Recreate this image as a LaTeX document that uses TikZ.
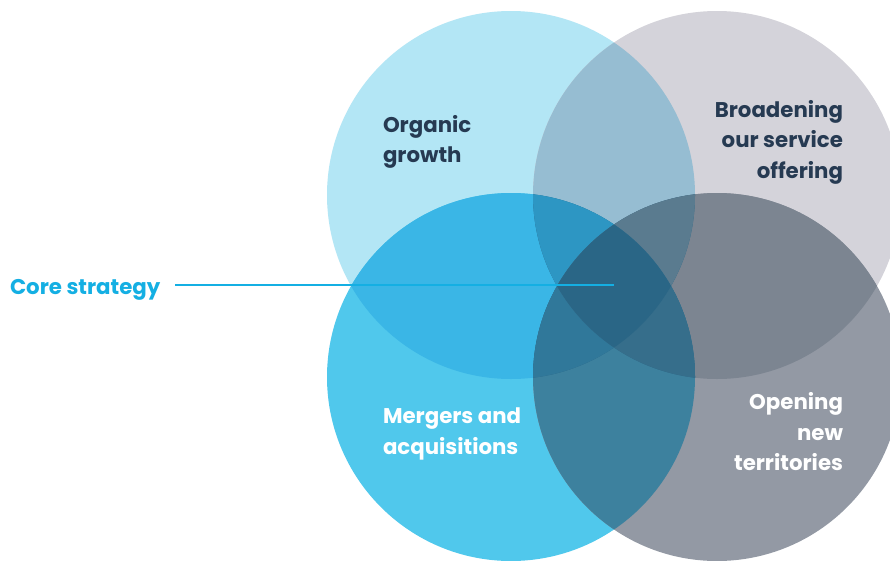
\documentclass[tikz,border=0pt]{standalone}
\usepackage{fontspec}
\setmainfont{Poppins}
\definecolor{cT}{HTML}{B3E6F5}
\definecolor{cR}{HTML}{D4D3DA}
\definecolor{cB}{HTML}{50C8EC}
\definecolor{cD}{HTML}{9399A4}
\definecolor{cTR}{HTML}{96BDD2}
\definecolor{cTB}{HTML}{3AB6E6}
\definecolor{cRD}{HTML}{7C8591}
\definecolor{cBD}{HTML}{3D819E}
\definecolor{cTD}{HTML}{2A6686}
\definecolor{cRB}{HTML}{2A6686}
\definecolor{cTRB}{HTML}{2D96C3}
\definecolor{cTRD}{HTML}{5A7B8F}
\definecolor{cTBD}{HTML}{30789A}
\definecolor{cRBD}{HTML}{366E8B}
\definecolor{cAll}{HTML}{2A6686}
\definecolor{navytext}{HTML}{263A52}
\definecolor{corecyan}{HTML}{14AFE3}
\newcommand{\vrad}{184pt}
\newcommand{\vennpair}[3]{\begin{scope}\clip (#1) circle (\vrad); \fill[#3] (#2) circle (\vrad);\end{scope}}
\newcommand{\venntriple}[4]{\begin{scope}\clip (#1) circle (\vrad); \clip (#2) circle (\vrad); \fill[#4] (#3) circle (\vrad);\end{scope}}
\begin{document}
\begin{tikzpicture}[x=1pt,y=-1pt,
  lbl/.style={font=\bfseries\fontsize{21.3}{30.5}\selectfont, inner sep=0pt, outer sep=0pt},
  darklbl/.style={lbl, text=navytext},
  whitelbl/.style={lbl, text=white},
  coreline/.style={draw=corecyan, line width=1.8pt}]
\useasboundingbox (0,0) rectangle (890,560);
\clip (0,0) rectangle (890,560);
\fill[white] (0,0) rectangle (890,560);
\coordinate (T) at (511,195);
\coordinate (R) at (717,195);
\coordinate (B) at (511,377);
\coordinate (D) at (717,377);
% single circles
\fill[cT] (T) circle (\vrad);
\fill[cR] (R) circle (\vrad);
\fill[cB] (B) circle (\vrad);
\fill[cD] (D) circle (\vrad);
% pairwise overlaps
\vennpair{T}{R}{cTR}
\vennpair{T}{B}{cTB}
\vennpair{R}{D}{cRD}
\vennpair{B}{D}{cBD}
\vennpair{T}{D}{cTD}
\vennpair{R}{B}{cRB}
% triple overlaps
\venntriple{T}{R}{B}{cTRB}
\venntriple{T}{R}{D}{cTRD}
\venntriple{T}{B}{D}{cTBD}
\venntriple{R}{B}{D}{cRBD}
% centre
\begin{scope}
\clip (T) circle (\vrad); \clip (R) circle (\vrad); \clip (B) circle (\vrad);
\fill[cAll] (D) circle (\vrad);
\end{scope}
% labels (base anchor = baseline of last line)
\node[darklbl, align=left, anchor=base west] (organic) at (383,162.5) {Organic\\growth};
\node[darklbl, align=right, anchor=base east] (broad) at (843,178) {Broadening\\our service\\offering};
\node[whitelbl, align=left, anchor=base west] (merge) at (383,454) {Mergers and\\acquisitions};
\node[whitelbl, align=right, anchor=base east] (open) at (843,470.5) {Opening\\new\\territories};
\node[lbl, text=corecyan, anchor=base west] (core) at (10,294) {Core strategy};
\coordinate (linestart) at (175,285);
\coordinate (lineend) at (614,285);
\draw[coreline] (linestart) -- (lineend);
\end{tikzpicture}
\end{document}
